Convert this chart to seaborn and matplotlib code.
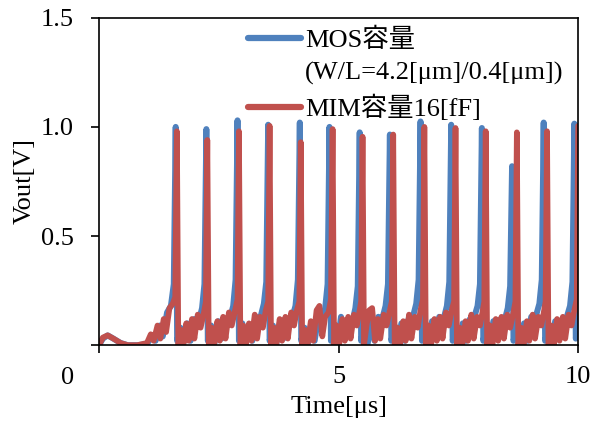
import numpy as np
import matplotlib
matplotlib.use('Agg')
import matplotlib.pyplot as plt
from matplotlib.lines import Line2D
import seaborn as sns

# ========== ДАННЫЕ ==========
# MOS容量: время [мкс] и Vout [В]
mos_t = [0.00, 0.08, 0.18, 0.30, 0.45, 0.60, 0.80, 1.00, 1.10, 1.18, 1.27, 1.33, 1.42, 1.50, 1.56, 1.60,
         1.63, 1.70, 1.76, 1.84, 1.91, 1.99, 2.07, 2.15, 2.20, 2.24,
         2.27, 2.34, 2.41, 2.49, 2.56, 2.64, 2.72, 2.80, 2.85, 2.89,
         2.92, 2.99, 3.06, 3.13, 3.20, 3.28, 3.36, 3.44, 3.49, 3.53,
         3.56, 3.63, 3.70, 3.78, 3.85, 3.93, 4.01, 4.10, 4.15, 4.19,
         4.22, 4.29, 4.36, 4.43, 4.50, 4.57, 4.64, 4.72, 4.77, 4.81,
         4.84, 4.91, 4.98, 5.05, 5.12, 5.20, 5.28, 5.35, 5.40, 5.44,
         5.47, 5.54, 5.61, 5.68, 5.75, 5.83, 5.91, 5.98, 6.03, 6.07,
         6.10, 6.17, 6.24, 6.31, 6.38, 6.46, 6.54, 6.62, 6.67, 6.71,
         6.74, 6.81, 6.88, 6.95, 7.02, 7.10, 7.18, 7.26, 7.31, 7.35,
         7.38, 7.45, 7.52, 7.59, 7.66, 7.74, 7.82, 7.90, 7.95, 7.99,
         8.02, 8.09, 8.16, 8.23, 8.30, 8.38, 8.46, 8.53, 8.58, 8.62,
         8.65, 8.72, 8.79, 8.87, 8.94, 9.02, 9.10, 9.19, 9.24, 9.28,
         9.31, 9.38, 9.45, 9.52, 9.59, 9.67, 9.75, 9.83, 9.88, 9.92,
         9.95, 10.00]
mos_v = [0.00, 0.03, 0.045, 0.03, 0.01, 0.00, 0.00, 0.005, 0.04, 0.02, 0.09, 0.04, 0.15, 0.18, 0.28, 1.00,
         0.02, 0.08, 0.01, 0.10, 0.02, 0.12, 0.10, 0.17, 0.28, 0.99,
         0.02, 0.09, 0.01, 0.11, 0.03, 0.12, 0.11, 0.18, 0.30, 1.03,
         0.02, 0.10, 0.01, 0.09, 0.02, 0.13, 0.12, 0.19, 0.29, 1.01,
         0.02, 0.09, 0.01, 0.11, 0.03, 0.12, 0.11, 0.18, 0.30, 1.02,
         0.02, 0.08, 0.01, 0.10, 0.02, 0.12, 0.12, 0.17, 0.28, 1.00,
         0.02, 0.09, 0.01, 0.13, 0.03, 0.12, 0.10, 0.17, 0.27, 0.975,
         0.02, 0.10, 0.01, 0.11, 0.02, 0.13, 0.12, 0.18, 0.28, 0.965,
         0.02, 0.09, 0.01, 0.10, 0.02, 0.12, 0.12, 0.19, 0.30, 1.025,
         0.02, 0.08, 0.01, 0.11, 0.03, 0.13, 0.11, 0.18, 0.29, 1.01,
         0.02, 0.09, 0.01, 0.10, 0.02, 0.12, 0.12, 0.18, 0.28, 0.995,
         0.02, 0.10, 0.01, 0.11, 0.03, 0.12, 0.11, 0.17, 0.27, 0.82,
         0.02, 0.09, 0.01, 0.10, 0.02, 0.13, 0.12, 0.19, 0.30, 1.02,
         0.02, 0.08, 0.01, 0.11, 0.03, 0.12, 0.12, 0.18, 0.29, 1.015,
         0.03, 0.08]

# MIM容量16[fF]
mim_t = [0.00, 0.08, 0.18, 0.30, 0.45, 0.60, 0.80, 1.00, 1.08, 1.14, 1.22, 1.28, 1.35, 1.40, 1.47, 1.54, 1.59, 1.625,
         1.655, 1.71, 1.76, 1.82, 1.87, 1.94, 1.99, 2.06, 2.12, 2.19, 2.23, 2.26,
         2.29, 2.35, 2.40, 2.47, 2.52, 2.59, 2.64, 2.71, 2.77, 2.84, 2.89, 2.92,
         2.95, 3.01, 3.06, 3.13, 3.18, 3.25, 3.30, 3.36, 3.42, 3.48, 3.53, 3.56,
         3.59, 3.65, 3.70, 3.77, 3.82, 3.89, 3.94, 4.01, 4.07, 4.13, 4.18, 4.21,
         4.24, 4.30, 4.35, 4.42, 4.47, 4.54, 4.60, 4.66, 4.72, 4.79, 4.84, 4.875,
         4.905, 4.96, 5.01, 5.08, 5.13, 5.20, 5.25, 5.32, 5.38, 5.44, 5.47, 5.50,
         5.53, 5.59, 5.64, 5.70, 5.76, 5.82, 5.87, 5.94, 6.00, 6.07, 6.11, 6.14,
         6.17, 6.23, 6.28, 6.35, 6.40, 6.47, 6.52, 6.59, 6.65, 6.71, 6.76, 6.79,
         6.82, 6.88, 6.93, 7.00, 7.05, 7.12, 7.17, 7.24, 7.30, 7.36, 7.41, 7.44,
         7.47, 7.53, 7.58, 7.65, 7.70, 7.77, 7.82, 7.89, 7.95, 8.01, 8.04, 8.07,
         8.10, 8.16, 8.21, 8.28, 8.33, 8.40, 8.45, 8.52, 8.58, 8.65, 8.69, 8.72,
         8.75, 8.81, 8.86, 8.93, 8.98, 9.05, 9.10, 9.17, 9.23, 9.29, 9.32, 9.35,
         9.38, 9.44, 9.49, 9.56, 9.61, 9.68, 9.73, 9.80, 9.86, 9.92, 9.97, 10.00]
mim_v = [0.00, 0.035, 0.045, 0.03, 0.01, 0.00, 0.00, 0.01, 0.05, 0.02, 0.09, 0.03, 0.12, 0.06, 0.17, 0.19, 0.22, 0.98,
         0.00, 0.07, 0.00, 0.10, 0.02, 0.12, 0.03, 0.14, 0.08, 0.15, 0.20, 0.94,
         0.00, 0.08, 0.00, 0.11, 0.02, 0.13, 0.03, 0.15, 0.09, 0.16, 0.21, 0.98,
         0.00, 0.09, 0.00, 0.10, 0.02, 0.14, 0.03, 0.13, 0.08, 0.16, 0.20, 1.005,
         0.00, 0.08, 0.00, 0.12, 0.02, 0.13, 0.03, 0.15, 0.09, 0.16, 0.20, 0.93,
         0.00, 0.07, 0.00, 0.11, 0.02, 0.16, 0.18, 0.04, 0.13, 0.15, 0.21, 0.99,
         0.00, 0.09, 0.00, 0.12, 0.02, 0.13, 0.03, 0.14, 0.09, 0.16, 0.20, 0.955,
         0.00, 0.10, 0.16, 0.17, 0.02, 0.12, 0.03, 0.14, 0.09, 0.16, 0.20, 0.965,
         0.00, 0.08, 0.00, 0.11, 0.02, 0.14, 0.03, 0.13, 0.08, 0.16, 0.21, 1.00,
         0.00, 0.09, 0.00, 0.12, 0.02, 0.13, 0.03, 0.15, 0.09, 0.16, 0.20, 0.995,
         0.00, 0.08, 0.00, 0.11, 0.02, 0.14, 0.03, 0.13, 0.09, 0.16, 0.20, 0.98,
         0.00, 0.09, 0.00, 0.12, 0.02, 0.13, 0.03, 0.14, 0.08, 0.15, 0.20, 0.975,
         0.00, 0.08, 0.00, 0.11, 0.02, 0.14, 0.03, 0.13, 0.09, 0.16, 0.20, 0.98,
         0.00, 0.09, 0.00, 0.12, 0.02, 0.13, 0.03, 0.14, 0.09, 0.16, 0.21, 1.005]

mos_label = 'MOS容量'
mos_label2 = '(W/L=4.2[μm]/0.4[μm])'
mim_label = 'MIM容量16[fF]'
x_ticks = [0, 5, 10]
y_ticks = [0, 0.5, 1.0, 1.5]
y_tick_labels = ['', '0.5', '1.0', '1.5']

# ========== ГРАФИК ==========
sns.set_style('ticks')
plt.rcParams['font.family'] = ['Liberation Serif', 'Noto Sans CJK JP']
plt.rcParams['axes.linewidth'] = 1.2
plt.rcParams['text.color'] = 'black'
plt.rcParams['axes.labelcolor'] = 'black'

fig = plt.figure(figsize=(5.93, 4.23), dpi=100)
ax = fig.add_axes([0.167, 0.184, 0.808, 0.774])

blue = '#4F81BD'
red = '#C0504D'
sns.lineplot(x=mos_t, y=mos_v, ax=ax, color=blue, lw=4.3, sort=False,
             solid_joinstyle='round', solid_capstyle='round')
sns.lineplot(x=mim_t, y=mim_v, ax=ax, color=red, lw=4.1, sort=False,
             solid_joinstyle='round', solid_capstyle='round')

ax.set_xlim(0, 10)
ax.set_ylim(0, 1.5)
ax.set_xticks(x_ticks)
ax.set_xticklabels(['', '5', '10'])
ax.set_yticks(y_ticks)
ax.set_yticklabels(y_tick_labels)
ax.tick_params(axis='both', direction='out', length=6, width=1.2, labelsize=19, colors='black')
ax.tick_params(axis='x', pad=9)
ax.tick_params(axis='y', pad=12)
for s in ax.spines.values():
    s.set_visible(True)
    s.set_color('black')

# отдельная метка "0" в левом нижнем углу
ax.text(-0.65, -0.1, '0', transform=ax.get_xaxis_transform(), ha='center', va='center', fontsize=19)

ax.set_xlabel('Time[μs]', fontsize=19, labelpad=6)
ax.set_ylabel('Vout[V]', fontsize=19, labelpad=4)

handles = [Line2D([], [], color=blue, lw=4.5, solid_capstyle='round'),
           Line2D([], [], color='none'),
           Line2D([], [], color=red, lw=4.5, solid_capstyle='round')]
ax.legend(handles, [mos_label, mos_label2, mim_label], loc='upper left',
          bbox_to_anchor=(0.273, 1.025), frameon=False, fontsize=19,
          handlelength=2.0, handletextpad=0.15, labelspacing=0.35, borderpad=0.2)

fig.savefig('out.png', dpi=100)
